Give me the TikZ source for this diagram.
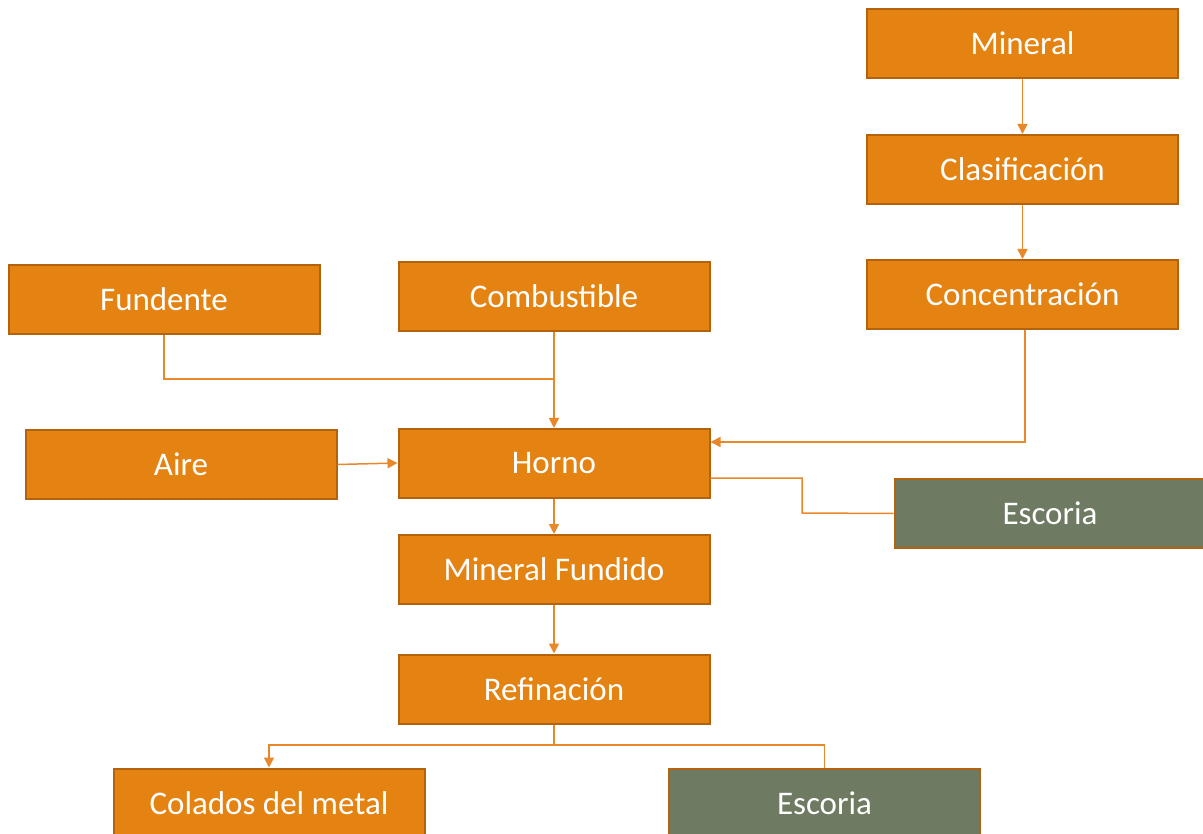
\documentclass[tikz,border=0pt]{standalone}
\usepackage{fontspec}
\setmainfont{Carlito}
\usetikzlibrary{arrows.meta}
\definecolor{boxorange}{HTML}{E48312}
\definecolor{boxedge}{HTML}{B3630E}
\definecolor{linkorange}{HTML}{E8882A}
\definecolor{slaggreen}{HTML}{6E7A61}
\tikzset{
  stage/.style={draw=boxedge, line width=2pt, fill=boxorange, text=white,
    minimum width=311pt, minimum height=69pt, inner sep=0pt,
    font=\fontsize{33}{36}\selectfont},
  slag/.style={stage, fill=slaggreen},
  link/.style={draw=linkorange, line width=1.5pt},
  flow/.style={link, -{Triangle[length=10pt,width=10pt]}}
}
\begin{document}
\begin{tikzpicture}[x=1pt,y=-1pt]
\fill[white] (0,0) rectangle (1203,834);
\clip (0,0) rectangle (1203,834);
% process boxes
\node[stage] (mineral) at (1022.5,43.5) {Mineral};
\node[stage] (clasif)  at (1022.5,169.5) {Clasificación};
\node[stage] (concen)  at (1022.5,294.5) {Concentración};
\node[stage] (fundente) at (164,299.5) {Fundente};
\node[stage] (combust) at (554,296.5) {Combustible};
\node[stage] (aire)    at (181,464.5) {Aire};
\node[stage] (horno)   at (554,463.5) {Horno};
\node[slag]  (escoria1) at (1050,513.5) {Escoria};
\node[stage] (fundido) at (554,569.5) {Mineral Fundido};
\node[stage] (refin)   at (554,689) {Refinación};
\node[stage] (colados) at (269,803) {Colados del metal};
\node[slag]  (escoria2) at (824.5,803) {Escoria};
% junction points of the elbow connectors
\coordinate (jf) at (554,379);
\coordinate (jr) at (554,745);
% connectors
\draw[flow] (mineral.south) -- (clasif.north);
\draw[flow] (clasif.south) -- (concen.north);
\draw[flow] (concen.south -| 1025,0) |- (horno.east |- 0,442);
\draw[link] (fundente.south) |- (jf);
\draw[flow] (combust.south) -- (horno.north);
\draw[flow] (aire.east) -- (horno.west |- 0,463);
\draw[link] (horno.east |- 0,478) -| (802,513) -- (escoria1.west);
\draw[flow] (horno.south) -- (fundido.north);
\draw[flow] (fundido.south) -- (refin.north);
\draw[link] (refin.south) -- (jr);
\draw[flow] (jr) -| (colados.north);
\draw[link] (jr) -| (escoria2.north);
\end{tikzpicture}
\end{document}
